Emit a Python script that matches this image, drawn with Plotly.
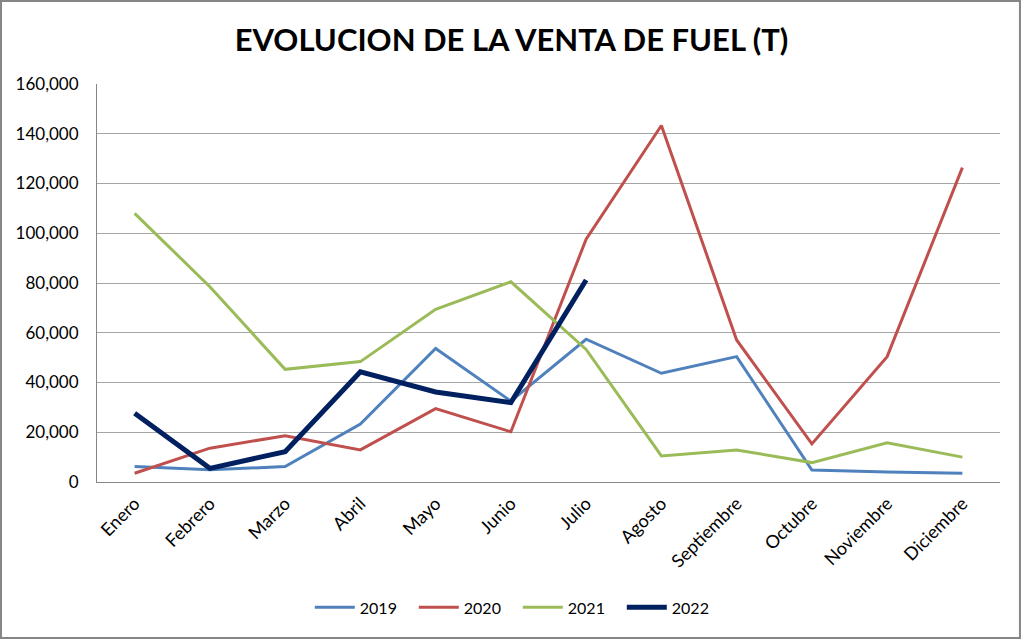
import plotly.graph_objects as go

meses = ["Enero", "Febrero", "Marzo", "Abril", "Mayo", "Junio", "Julio",
         "Agosto", "Septiembre", "Octubre", "Noviembre", "Diciembre"]
v2019 = [6200, 4900, 6200, 23300, 53700, 32500, 57400, 43700, 50400, 4800, 4000, 3500]
v2020 = [3500, 13600, 18600, 12900, 29500, 20200, 97600, 143300, 57100, 15300, 50400, 126400]
v2021 = [108000, 78500, 45300, 48400, 69400, 80500, 53300, 10500, 12900, 7800, 15800, 10000]
v2022 = [27600, 5500, 12200, 44300, 36200, 31900, 81200]

series = [
    ("2019", v2019, "#4F81BD", 3),
    ("2020", v2020, "#C0504D", 3),
    ("2021", v2021, "#9BBB59", 3),
    ("2022", v2022, "#002060", 5),
]

font_family = "Lato, 'Open Sans', sans-serif"

fig = go.Figure()
for name, vals, color, w in series:
    fig.add_trace(go.Scatter(
        x=meses[:len(vals)], y=vals, name=name, mode="lines",
        line=dict(color=color, width=w),
    ))

fig.update_layout(
    width=1023, height=640,
    paper_bgcolor="white", plot_bgcolor="white",
    margin=dict(l=97, r=23, t=84, b=158, autoexpand=False),
    font=dict(family=font_family, size=16, color="#000000"),
    title=dict(text="<b>EVOLUCION DE LA VENTA DE FUEL (T)</b>",
               x=0.5, xanchor="center", xref="container",
               y=1 - 40 / 640, yanchor="middle", yref="container",
               font=dict(family=font_family, size=31, color="#000000")),
    showlegend=True,
    legend=dict(orientation="h", x=0.466, xanchor="center", y=-0.315, yanchor="middle",
                font=dict(size=16), itemwidth=40, traceorder="normal",
                entrywidth=49, entrywidthmode="pixels"),
    shapes=[dict(type="rect", xref="paper", yref="paper",
                 x0=-0.1063, x1=1.0221, y0=-0.392, y1=1.2085,
                 line=dict(color="#868686", width=2), layer="below")],
)
fig.update_xaxes(
    type="category", categoryorder="array", categoryarray=meses,
    range=[-0.5, 11.5], tickangle=-45, showgrid=False, automargin=False,
    showline=True, linecolor="#868686", linewidth=1,
    ticks="", tickfont=dict(size=18), ticklabelstandoff=3,
)
fig.update_yaxes(
    range=[0, 160000], dtick=20000, tickformat=",d", automargin=False,
    showgrid=True, gridcolor="#A6A6A6", gridwidth=1,
    showline=True, linecolor="#868686", linewidth=1,
    ticks="", tickfont=dict(size=17), zeroline=False, ticklabelstandoff=14,
)

fig.write_html("out.html", config={"displayModeBar": False},
               post_script="document.body.style.margin='0';document.body.style.padding='0';")
